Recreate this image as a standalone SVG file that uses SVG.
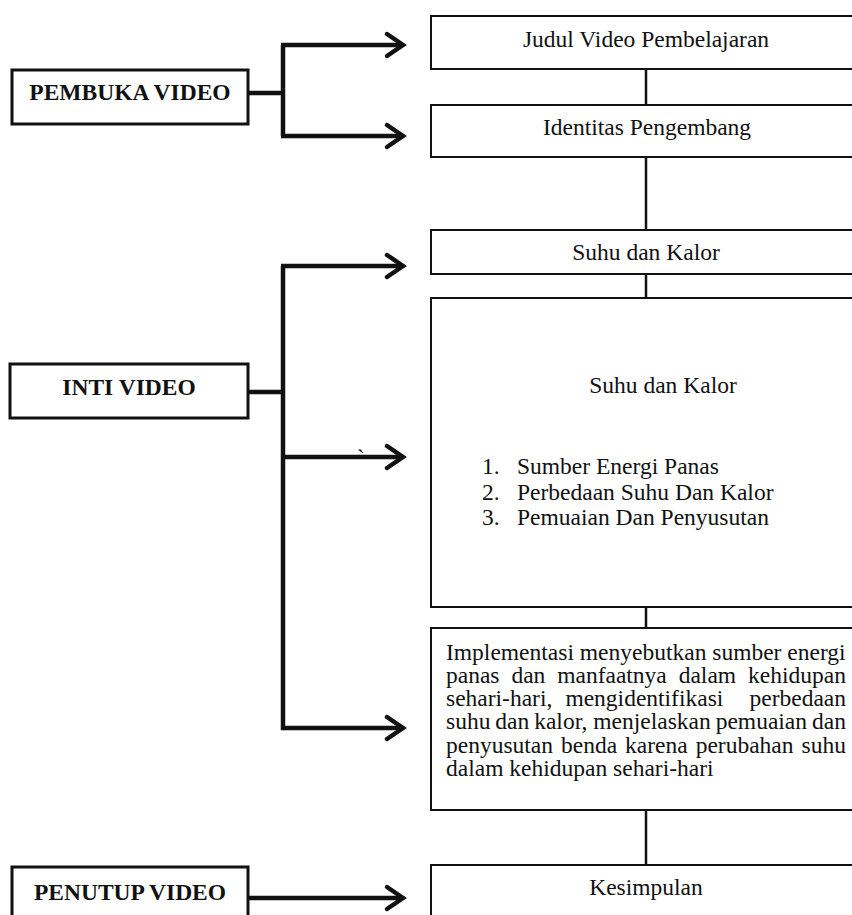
<svg xmlns="http://www.w3.org/2000/svg" width="852" height="915" viewBox="0 0 852 915">
<style>
.t{font-family:"Liberation Serif","Times New Roman",serif;font-size:23.5px;fill:#111}
.b{font-weight:bold}
.c{text-anchor:middle}
.lbox{fill:#fff;stroke:#111;stroke-width:3}
.rbox{fill:#fff;stroke:#111;stroke-width:2}
.bus{fill:none;stroke:#111;stroke-width:4.5;stroke-linejoin:miter}
.link{fill:none;stroke:#111;stroke-width:2.5}
.head{fill:none;stroke:#111;stroke-width:4.5;stroke-linecap:round;stroke-linejoin:miter}
</style>
<rect width="852" height="915" fill="#fff"/>

<g id="connectors">
  <path class="bus" d="M248 93 H283 M283 45 V136 M281 45 H402 M281 136 H402"/>
  <path class="head" d="M387 34 L403 45 L387 56 M387 125 L403 136 L387 147"/>
  <path class="bus" d="M248 392 H283 M283 266 V730 M281 266 H402 M281 457 H402 M281 728 H402"/>
  <path class="head" d="M387 255 L403 266 L387 277 M387 446 L403 457 L387 468 M387 717 L403 728 L387 739"/>
  <path class="bus" d="M248 898 H402"/>
  <path class="head" d="M387 887 L403 898 L387 909"/>
  <path class="link" d="M646 69 V105 M646 157 V230 M646 274 V298 M646 607 V628 M646 810 V865"/>
  <text class="t" x="357" y="466">`</text>
</g>

<g id="pembuka">
  <rect class="lbox" x="12" y="70" width="236" height="54"/>
  <text class="t b c" x="130" y="100">PEMBUKA VIDEO</text>
</g>
<g id="inti">
  <rect class="lbox" x="10" y="364" width="238" height="54"/>
  <text class="t b c" x="129" y="395">INTI VIDEO</text>
</g>
<g id="penutup">
  <rect class="lbox" x="12" y="867" width="236" height="60"/>
  <text class="t b c" x="130" y="900">PENUTUP VIDEO</text>
</g>

<g id="judul">
  <rect class="rbox" x="431" y="16" width="440" height="53"/>
  <text class="t c" x="646" y="47">Judul Video Pembelajaran</text>
</g>
<g id="identitas">
  <rect class="rbox" x="431" y="105" width="440" height="52"/>
  <text class="t c" x="647" y="135">Identitas Pengembang</text>
</g>
<g id="suhu1">
  <rect class="rbox" x="431" y="230" width="440" height="44"/>
  <text class="t c" x="646" y="260">Suhu dan Kalor</text>
</g>
<g id="suhu2">
  <rect class="rbox" x="431" y="298" width="440" height="309"/>
  <text class="t c" x="663" y="393">Suhu dan Kalor</text>
  <text class="t" x="482" y="474">1.</text><text class="t" x="517" y="474">Sumber Energi Panas</text>
  <text class="t" x="482" y="499.5">2.</text><text class="t" x="517" y="499.5">Perbedaan Suhu Dan Kalor</text>
  <text class="t" x="482" y="525">3.</text><text class="t" x="517" y="525">Pemuaian Dan Penyusutan</text>
</g>
<g id="implementasi">
  <rect class="rbox" x="431" y="628" width="440" height="182"/>
  <text class="t" y="659.5"><tspan x="446">Implementasi menyebutkan sumber energi</tspan></text>
  <text class="t" y="682.8"><tspan x="446">panas</tspan><tspan x="511.4">dan</tspan><tspan x="557.2">manfaatnya</tspan><tspan x="678.7">dalam</tspan><tspan x="748">kehidupan</tspan></text>
  <text class="t" y="706.1"><tspan x="446">sehari-hari,</tspan><tspan x="565.4">mengidentifikasi</tspan><tspan x="749.5">perbedaan</tspan></text>
  <text class="t" y="729.4"><tspan x="446">suhu</tspan><tspan x="495.3">dan</tspan><tspan x="534.2">kalor,</tspan><tspan x="593.3">menjelaskan</tspan><tspan x="715.7">pemuaian</tspan><tspan x="812.1">dan</tspan></text>
  <text class="t" y="752.7"><tspan x="446">penyusutan</tspan><tspan x="561">benda</tspan><tspan x="625.1">karena</tspan><tspan x="695.7">perubahan</tspan><tspan x="801.6">suhu</tspan></text>
  <text class="t" y="776"><tspan x="446">dalam kehidupan sehari-hari</tspan></text>
</g>
<g id="kesimpulan">
  <rect class="rbox" x="431" y="865" width="440" height="70"/>
  <text class="t c" x="646" y="895">Kesimpulan</text>
</g>
</svg>
